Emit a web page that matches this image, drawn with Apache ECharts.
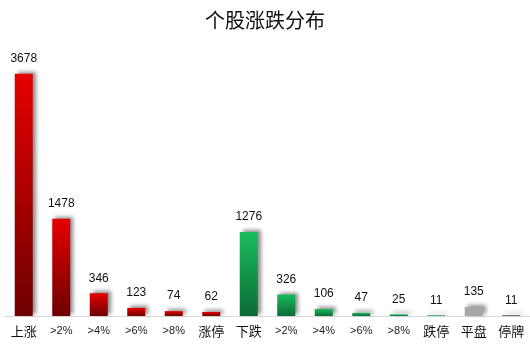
<!DOCTYPE html>
<html><head><meta charset="utf-8">
<script src="https://cdn.jsdelivr.net/npm/echarts@6/dist/echarts.min.js"></script>
<style>html,body{margin:0;padding:0;background:#fff}#c{width:530px;height:344px}</style>
</head><body><div id="c"></div>
<script>
var categories = ['上涨','>2%','>4%','>6%','>8%','涨停','下跌','>2%','>4%','>6%','>8%','跌停','平盘','停牌'];
var values = [3678,1478,346,123,74,62,1276,326,106,47,25,11,135,11];
var groups = ['up','up','up','up','up','up','down','down','down','down','down','down','flat','halt'];

function grad(a,b){return new echarts.graphic.LinearGradient(0,0,0,1,[{offset:0,color:a},{offset:1,color:b}]);}
var colorMap = {
  up: grad('#e60000','#6e0000'),
  down: grad('#19bd5c','#0b6b36'),
  flat: '#a6a6a6',
  halt: '#404040'
};
var data = values.map(function(v,i){return {value:v,itemStyle:{color:colorMap[groups[i]]}};});

var chart = echarts.init(document.getElementById('c'));
chart.setOption({
  animation:false,
  title:{text:'个股涨跌分布',left:'center',top:5,textStyle:{fontFamily:'Noto Sans CJK SC',fontWeight:'normal',fontSize:20,color:'#111'}},
  grid:{left:5,right:-2,top:73.7,bottom:28,containLabel:false},
  xAxis:{type:'category',data:categories,
    axisLine:{lineStyle:{color:'#d9d9d9'}},axisTick:{show:false},
    axisLabel:{color:'#111',fontSize:12,margin:9,interval:0,fontFamily:'Noto Sans CJK SC',
      formatter:function(v){return /[\u4e00-\u9fff]/.test(v)?'{cn|'+v+'}':'{en|'+v+'}';},
      rich:{cn:{fontSize:13,fontFamily:'Noto Sans CJK SC',color:'#111'},en:{fontSize:11,fontFamily:'Liberation Sans',color:'#222'}}}},
  yAxis:{type:'value',min:0,max:3678,show:false,splitLine:{show:false}},
  series:[{type:'bar',data:data,barWidth:18,
    itemStyle:{shadowColor:'rgba(0,0,0,0.45)',shadowBlur:4,shadowOffsetX:3,shadowOffsetY:-2},
    label:{show:true,position:'top',distance:9,color:'#111',fontSize:12,fontFamily:'Liberation Sans'}}]
});
</script></body></html>
